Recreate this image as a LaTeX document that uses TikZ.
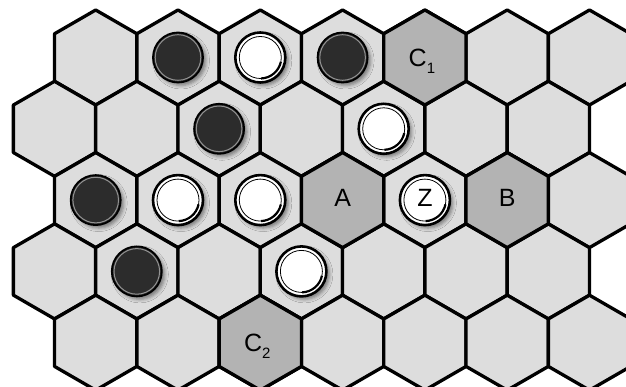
\documentclass[tikz,border=0pt]{standalone}
\usepackage{fontspec}
\setmainfont{Liberation Sans}
\usetikzlibrary{shadows.blur}
\definecolor{cellgray}{HTML}{DDDDDD}
\definecolor{markgray}{HTML}{B3B3B3}
\definecolor{stoneblack}{HTML}{2C2C2C}
\begin{document}
\begin{tikzpicture}[x=1pt,y=1pt,
 cell/.style={draw=black,line width=3.3pt,line join=round,fill=cellgray},
 markcell/.style={cell,fill=markgray},
 stone/.style={circle,inner sep=0pt,minimum size=50pt,
   blur shadow={shadow xshift=3pt,shadow yshift=-3pt,shadow blur radius=3.5pt,shadow opacity=45}},
 blackstone/.style={stone,fill=stoneblack,draw=black,line width=1.8pt,
   path picture={\draw[gray!85,line width=1pt] (path picture bounding box.center) circle (22.8pt);}},
 whitestone/.style={stone,fill=white,draw=black,line width=2.6pt,
   path picture={\draw[line width=0.8pt] (path picture bounding box.center) circle (21pt);
     \draw[line width=2.2pt] (path picture bounding box.center) ++(-88:21pt) arc[start angle=-88,end angle=-12,radius=21pt];}},
 lbl/.style={font=\fontsize{25}{25}\selectfont,inner sep=0pt,anchor=base}]
\useasboundingbox (0,0) rectangle (626,387);
\clip (0,0) rectangle (626,387);
\foreach \row in {0,...,4}{
  \pgfmathsetmacro{\xo}{isodd(\row) ? 54.5 : 95.7}
  \foreach \col in {0,...,6}{
    \coordinate (h\row\col) at ({\xo+82.3*\col},{329.5-71.3*\row});
    \draw[cell] (h\row\col) +(90:47.5) -- +(30:47.5) -- +(-30:47.5) -- +(-90:47.5) -- +(-150:47.5) -- +(150:47.5) -- cycle;
  }
}
\foreach \c in {04,23,25,42}
  \draw[markcell] (h\c) +(90:47.5) -- +(30:47.5) -- +(-30:47.5) -- +(-90:47.5) -- +(-150:47.5) -- +(150:47.5) -- cycle;
\node[blackstone] (b1) at (h01) {};
\node[whitestone] (w1) at (h02) {};
\node[blackstone] (b2) at (h03) {};
\node[blackstone] (b3) at (h12) {};
\node[whitestone] (w2) at (h14) {};
\node[blackstone] (b4) at (h20) {};
\node[whitestone] (w3) at (h21) {};
\node[whitestone] (w4) at (h22) {};
\node[whitestone] (z) at (h24) {};
\node[lbl,yshift=-6.8pt] (zl) at (z) {Z};
\node[blackstone] (b5) at (h31) {};
\node[whitestone] (w5) at (h33) {};
\node[lbl,yshift=-6.5pt] (A) at (h23) {A};
\node[lbl,yshift=-6.5pt] (B) at (h25) {B};
\node[lbl,xshift=-3pt,yshift=-9pt] (C1) at (h04) {C\raisebox{-7pt}{\fontsize{15}{15}\selectfont 1}};
\node[lbl,xshift=-3pt,yshift=-9pt] (C2) at (h42) {C\raisebox{-7pt}{\fontsize{15}{15}\selectfont 2}};
\end{tikzpicture}
\end{document}
